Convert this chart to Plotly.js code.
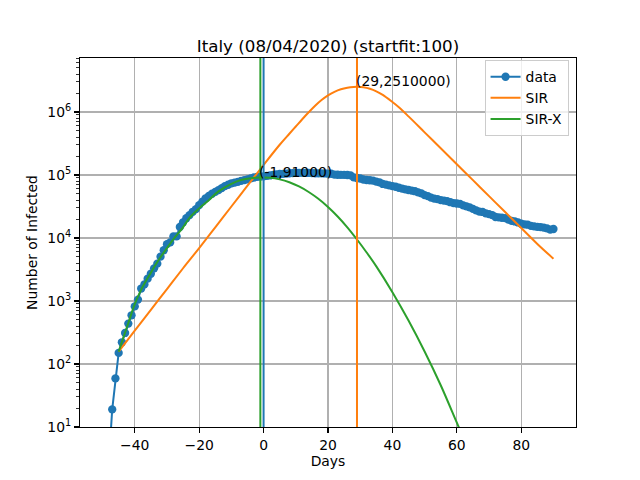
<!DOCTYPE html>
<html><head><meta charset="utf-8">
<script src="https://cdn.plot.ly/plotly-3.0.1.min.js"></script>
<style>html,body{margin:0;padding:0;background:#fff}#chart{width:640px;height:480px}</style>
</head><body><div id="chart"></div>
<script>
// Days relative to 08/04/2020
const days = [-50,-49,-48,-47,-46,-45,-44,-43,-42,-41,-40,-39,-38,-37,-36,-35,-34,-33,-32,-31,
-30,-29,-28,-27,-26,-25,-24,-23,-22,-21,-20,-19,-18,-17,-16,-15,-14,-13,-12,-11,
-10,-9,-8,-7,-6,-5,-4,-3,-2,-1,0,1,2,3,4,5,6,7,8,9,
10,11,12,13,14,15,16,17,18,19,20,21,22,23,24,25,26,27,28,29,
30,31,32,33,34,35,36,37,38,39,40,41,42,43,44,45,46,47,48,49,
50,51,52,53,54,55,56,57,58,59,60,61,62,63,64,65,66,67,68,69,
70,71,72,73,74,75,76,77,78,79,80,81,82,83,84,85,86,87,88,89,90];
const infected = [3,3,3,19,59,150,221,311,438,593,821,1053,1577,1835,2263,2706,3296,3916,5061,6387,
7985,8514,10590,10590,14955,17750,20603,23073,26062,28710,33190,37860,42681,46638,50418,54030,57521,62013,66414,70065,
73880,75528,77635,80572,83049,85388,88274,91246,93187,94067,95262,96877,98273,100269,102253,103616,104291,105418,106607,106962,
107771,108257,108237,107709,107699,106848,106527,105847,106103,105813,105205,104657,101551,100943,100704,100179,99980,98467,91528,89624,
87961,84842,83324,82488,81266,78457,76440,72070,70187,68351,66553,65129,62752,60960,59322,57752,56594,55300,52942,50966,
47986,46175,43691,42075,41367,39893,39297,38429,36976,35877,35262,34730,32872,31710,30637,28997,27485,26274,25909,24569,
23925,23101,21543,21212,20972,20637,19573,18655,18303,17638,16836,16496,16248,15563,15255,15060,14884,14621,14242,13595,13900];

// SIR model curve
const sirDays = [-45,-40,-35,-30,-25,-20,-15,-10,-5,0,5,8,10,12,14,16,18,20,22,24,26,28,29,31,33,35,37,40,42,45,50,55,60,65,70,75,80,85,90];
const sirValues = [157,339,724,1549,3311,6918,14791,31623,67608,144544,301995,451856,588844,767361,988553,1258925,1548817,1840772,2089296,2290868,2426610,2500345,2510000,2466039,2333458,2128139,1870682,1438799,1188502,851138,475335,265461,148252,82794,46238,25823,14421,8054,4700];

// SIR-X model curve
const sirxDays = [-45,-42,-40,-38,-35,-33,-30,-28,-25,-23,-20,-17,-14,-10,-7,-4,-1,2,5,8,11,14,17,20,23,26,29,32,35,40,45,50,55,60,62];
const sirxValues = [157,447,891,1514,2818,4169,6918,9550,14791,20893,29512,39811,54954,72444,83176,89125,91000,90157,85114,76736,65766,53703,41879,31046,21928,14757,9462,5888,3548,1380,490,158,46,11.7,6.8];

// Vertical markers: fit date, SIR peak, SIR-X peak
const vlineDays = [0, 29, -1];
const vlineColors = ['#1f77b4', '#ff7f0e', '#2ca02c'];

// Peak annotations
const peakX = [-1, 29];
const peakY = [91000, 2510000];

const yTickVals = [10, 100, 1000, 10000, 100000, 1000000];
const yTickText = ['10<sup>1</sup>','10<sup>2</sup>','10<sup>3</sup>','10<sup>4</sup>','10<sup>5</sup>','10<sup>6</sup>'];
const yMinorVals = [];
for (let e = 1; e <= 6; e++) for (let m = 2; m <= 9; m++) yMinorVals.push(m * Math.pow(10, e));

const font = 'DejaVu Sans, sans-serif';

const traces = [
  {x: days, y: infected, name: 'data', type: 'scatter', mode: 'lines+markers',
   line: {color: '#1f77b4', width: 2}, marker: {color: '#1f77b4', size: 8.3}},
  {x: sirDays, y: sirValues, name: 'SIR', type: 'scatter', mode: 'lines',
   line: {color: '#ff7f0e', width: 2, shape: 'spline', smoothing: 1}},
  {x: sirxDays, y: sirxValues, name: 'SIR-X', type: 'scatter', mode: 'lines',
   line: {color: '#2ca02c', width: 2, shape: 'spline', smoothing: 1}}
];

const shapes = vlineDays.map((d, i) => ({
  type: 'line', xref: 'x', yref: 'paper', x0: d, x1: d, y0: 0, y1: 1,
  line: {color: vlineColors[i], width: 2}, layer: 'above'
}));

const annotations = peakX.map((px, i) => ({
  x: px, y: Math.log10(peakY[i]), xref: 'x', yref: 'y',
  text: '(' + px + ',' + peakY[i] + ')', showarrow: false,
  xanchor: 'left', yanchor: 'bottom', yshift: -4, xshift: -3,
  font: {family: font, size: 13.9, color: '#000'}
}));

const axisCommon = {
  showline: true, linecolor: '#000', linewidth: 1.1, mirror: true,
  ticks: 'outside', ticklen: 4.9, tickwidth: 1.1, tickcolor: '#000',
  showgrid: true, gridcolor: '#b0b0b0', gridwidth: 1.1, zeroline: false,
  tickfont: {family: font, size: 13.9, color: '#000'}
};

const layout = {
  width: 640, height: 480,
  margin: {l: 80, r: 64, t: 58, b: 53},
  paper_bgcolor: '#fff', plot_bgcolor: '#fff',
  font: {family: font, size: 13.9, color: '#000'},
  title: {text: 'Italy (08/04/2020) (startfit:100)', font: {family: font, size: 16.7, color: '#000'},
          x: 0.5, xref: 'paper', xanchor: 'center', y: 1, yref: 'paper', yanchor: 'bottom', pad: {b: 6}},
  xaxis: Object.assign({}, axisCommon, {
    range: [-57, 97], tickmode: 'linear', tick0: 0, dtick: 20,
    title: {text: 'Days', font: {family: font, size: 13.9, color: '#000'}, standoff: 4}
  }),
  yaxis: Object.assign({}, axisCommon, {
    type: 'log', range: [1, 6.857], tickmode: 'array', tickvals: yTickVals, ticktext: yTickText,
    minor: {tickmode: 'array', tickvals: yMinorVals, ticks: 'outside', ticklen: 2.8, tickwidth: 0.8, tickcolor: '#000', showgrid: false},
    title: {text: 'Number of Infected', font: {family: font, size: 13.9, color: '#000'}, standoff: 6}
  }),
  showlegend: true,
  legend: {x: 0.985, y: 0.994, xanchor: 'right', yanchor: 'top',
           bgcolor: 'rgba(255,255,255,0.8)', bordercolor: '#cccccc', borderwidth: 1,
           font: {family: font, size: 13.9, color: '#000'}, itemwidth: 30, tracegroupgap: 0},
  shapes: shapes,
  annotations: annotations
};

Plotly.newPlot('chart', traces, layout, {displayModeBar: false, staticPlot: true});
</script>
</body></html>
